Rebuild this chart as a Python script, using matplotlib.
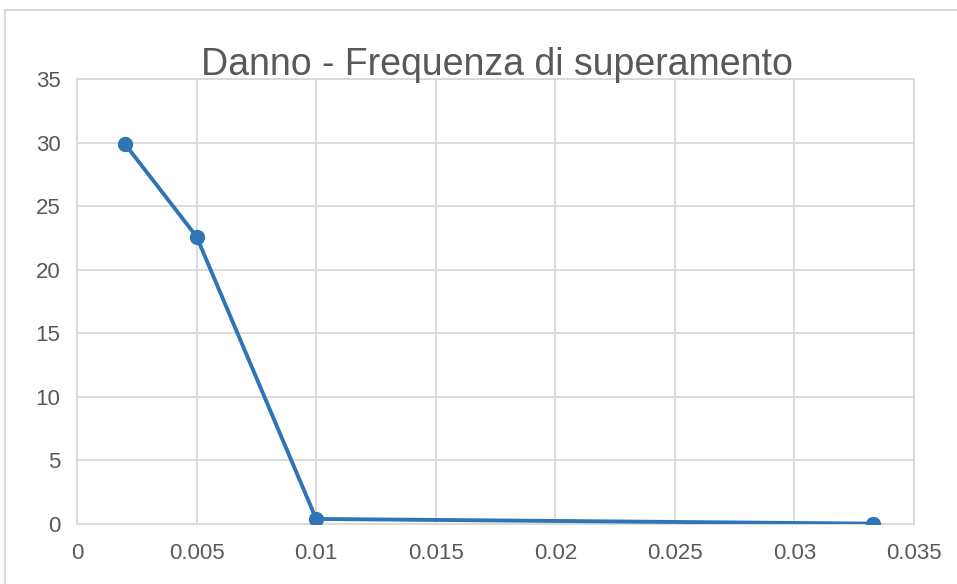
import matplotlib.pyplot as plt
from matplotlib.patches import Rectangle

# data
freq = [0.002, 0.005, 0.01, 0.0333]
danno = [29.9, 22.6, 0.4, 0.03]

plt.rcParams['font.family'] = ['Liberation Sans', 'DejaVu Sans']

fig = plt.figure(figsize=(9.57, 5.84), dpi=100)
ax = fig.add_axes([0.0805, 0.1027, 0.8745, 0.762])

ax.plot(freq, danno, color='#2e75b6', lw=2.8, marker='o', ms=10, zorder=3,
        solid_capstyle='round')

ax.set_xlim(0, 0.035)
ax.set_ylim(0, 35)
ax.set_xticks([0, 0.005, 0.01, 0.015, 0.02, 0.025, 0.03, 0.035])
ax.set_xticklabels(['0', '0.005', '0.01', '0.015', '0.02', '0.025', '0.03', '0.035'])
ax.set_yticks(range(0, 36, 5))
ax.grid(True, color='#d9d9d9', lw=1.3)
ax.set_axisbelow(True)
for s in ax.spines.values():
    s.set_color('#d9d9d9')
    s.set_linewidth(1.3)
ax.tick_params(length=0, labelsize=16, colors='#595959', pad=12)
ax.tick_params(axis='x', pad=14)

fig.text(0.519, 0.888, 'Danno - Frequenza di superamento', ha='center', va='center',
         fontsize=27, color='#595959')

# outer chart border
fig.patches.append(Rectangle((5 / 957, -0.05), 1.1, 1 - 10 / 584 + 0.05,
                             transform=fig.transFigure, fill=False,
                             edgecolor='#d9d9d9', lw=1.5))

fig.savefig('out.png', dpi=100)
